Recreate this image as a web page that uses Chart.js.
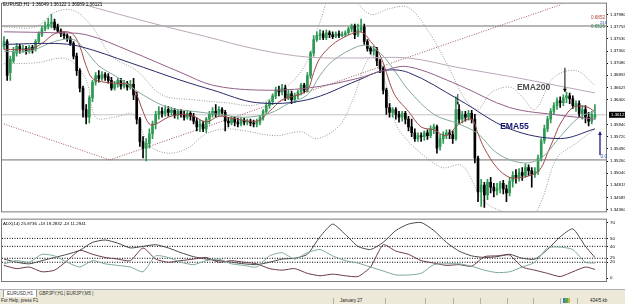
<!DOCTYPE html>
<html><head><meta charset="utf-8">
<script src="https://cdn.jsdelivr.net/npm/chart.js@4.4.1/dist/chart.umd.min.js"></script>
<style>
html,body{margin:0;padding:0;background:#fff;}
body{width:625px;height:304px;overflow:hidden;position:relative;font-family:"Liberation Sans",Arial,sans-serif;}
#c1{position:absolute;left:0;top:0;}
#c2{position:absolute;left:0;top:215px;}
#tabs{position:absolute;left:0;top:289px;width:625px;height:8px;background:#ece9d8;border-top:1px solid #b0b0b0;font-size:4.5px;}
.tab{position:absolute;top:0;height:7px;line-height:7px;padding:0 3px;color:#333;}
.tab.on{background:#fff;border:1px solid #999;border-top:none;top:0;}
#status{position:absolute;left:0;top:297px;width:625px;height:7px;background:#ece9d8;font-size:4.5px;line-height:7px;color:#222;}
#status span{position:absolute;top:0;}
#status i{position:absolute;top:1px;width:1px;height:6px;background:#b5b2a5;}
#status b{position:absolute;top:1px;left:563px;width:7px;height:5px;background:linear-gradient(90deg,#3a7fc0 0 30%,#58a84a 30% 65%,#c9b640 65%);}
</style></head><body>
<canvas id="c1" width="625" height="216"></canvas>
<canvas id="c2" width="625" height="75"></canvas>
<div id="tabs">
  <div class="tab on" style="left:3px">EURUSD,H1</div>
  <div class="tab" style="left:36px">GBPJPY,H1</div>
  <div class="tab" style="left:61px">| EURJPY,M5 |</div>
</div>
<div id="status">
  <span style="left:1px">For Help, press F1</span>
  <i style="left:333px"></i>
  <span style="left:340px">January 27</span>
  <i style="left:385px"></i><i style="left:425px"></i><i style="left:453px"></i><i style="left:480px"></i>
  <i style="left:507px"></i><i style="left:533px"></i><i style="left:560px"></i><i style="left:577px"></i>
  <b></b>
  <span style="left:590px">434/5 kb</span>
</div>
<script>
// ---------------- DATA ----------------
const timeLabels = ["10 Feb 2010","10 Feb 22:00","11 Feb 06:00","11 Feb 14:00","11 Feb 22:00","12 Feb 06:00","12 Feb 14:00","12 Feb 22:00","15 Feb 07:00","15 Feb 15:00","15 Feb 23:00","16 Feb 07:00","16 Feb 15:00","16 Feb 23:00","17 Feb 07:00","17 Feb 15:00","17 Feb 23:00","18 Feb 07:00","18 Feb 15:00","18 Feb 23:00","19 Feb 07:00","19 Feb 15:00","22 Feb 00:00","22 Feb 08:00"];
const timeTickIdx = [0,8,16,24,32,40,48,56,64,72,80,88,96,104,112,120,128,136,144,152,160,168,176,184];
const priceTicks = [1.37980,1.37755,1.37530,1.37300,1.37080,1.36855,1.36625,1.36400,1.35940,1.35720,1.35490,1.35260,1.35040,1.34815,1.34585,1.34360];
const adxTicks = [0,20,25,40,50,70];
const adxLevels = [20,25,40,50];

const openP = [1.3739,1.3748,1.36904,1.3712,1.37264,1.3739,1.37336,1.37354,1.373,1.37372,1.37336,1.3748,1.37606,1.37714,1.37768,1.37804,1.3784,1.3775,1.37678,1.37624,1.37588,1.37534,1.37444,1.3721,1.3694,1.36616,1.3622,1.36076,1.36436,1.36724,1.3685,1.36796,1.36868,1.36832,1.3676,1.36616,1.36688,1.3676,1.36652,1.36706,1.36634,1.36688,1.3649,1.3604,1.35626,1.355,1.3559,1.3577,1.3595,1.3613,1.36184,1.36148,1.3622,1.36166,1.36202,1.36112,1.36184,1.3613,1.36076,1.36148,1.36094,1.36004,1.35896,1.3595,1.3586,1.3604,1.3613,1.36184,1.3613,1.3622,1.36166,1.36004,1.35968,1.3604,1.35986,1.3595,1.36022,1.35986,1.36004,1.35968,1.3595,1.35986,1.36076,1.36184,1.36292,1.36364,1.36472,1.3658,1.36544,1.36616,1.36436,1.36508,1.364,1.36472,1.36544,1.3667,1.3658,1.3685,1.37264,1.37516,1.37588,1.37624,1.37552,1.37642,1.37606,1.3757,1.37624,1.37588,1.37606,1.37642,1.37714,1.37768,1.37606,1.37696,1.3775,1.3748,1.37354,1.373,1.37336,1.3712,1.36976,1.3658,1.36256,1.36166,1.3622,1.3613,1.36076,1.36148,1.3604,1.35896,1.35788,1.3568,1.35734,1.35716,1.35788,1.35734,1.3586,1.35896,1.35536,1.3568,1.35752,1.35788,1.35752,1.3568,1.3622,1.3604,1.3613,1.36076,1.36148,1.3604,1.3532,1.3469,1.34816,1.34636,1.3487,1.3478,1.34708,1.34762,1.34852,1.34744,1.34672,1.34888,1.34996,1.3496,1.3505,1.34996,1.3514,1.35086,1.35014,1.35068,1.3532,1.35644,1.3586,1.3604,1.36184,1.36292,1.36382,1.36346,1.36436,1.36472,1.36418,1.36292,1.36328,1.36148,1.3622,1.36076,1.36004,1.36076];
const highP = [1.3757,1.37516,1.3721,1.37372,1.37444,1.37426,1.37408,1.3739,1.37408,1.37408,1.37516,1.3766,1.37768,1.3784,1.37912,1.37984,1.37894,1.37804,1.37714,1.3766,1.37624,1.3757,1.3748,1.37264,1.36976,1.36652,1.3631,1.36472,1.3676,1.36904,1.3694,1.36922,1.36904,1.36886,1.36814,1.36742,1.36796,1.36796,1.3676,1.36742,1.3676,1.36796,1.36544,1.36076,1.35716,1.3568,1.3586,1.36004,1.36184,1.36274,1.36256,1.36292,1.36274,1.36256,1.36238,1.3622,1.3622,1.36184,1.36202,1.36184,1.36148,1.36058,1.36022,1.36004,1.36076,1.36184,1.36256,1.3631,1.36274,1.36256,1.36202,1.36076,1.36094,1.36076,1.36058,1.36076,1.36058,1.3604,1.3604,1.36022,1.3604,1.36112,1.3622,1.36346,1.364,1.36508,1.36634,1.36652,1.36688,1.3667,1.3658,1.36562,1.36526,1.3658,1.36706,1.36706,1.36904,1.373,1.37588,1.3766,1.37696,1.37678,1.37696,1.37678,1.3766,1.3766,1.37678,1.3766,1.37678,1.3775,1.37804,1.37804,1.37804,1.37894,1.37804,1.37516,1.3739,1.3739,1.37372,1.37156,1.37012,1.36616,1.36328,1.36256,1.36256,1.36184,1.36184,1.36184,1.36094,1.3604,1.3586,1.35788,1.35788,1.35824,1.35842,1.35914,1.3595,1.35932,1.35752,1.35806,1.35842,1.35842,1.35824,1.36454,1.3631,1.36184,1.36184,1.36202,1.36202,1.3613,1.35356,1.34924,1.3487,1.34924,1.3496,1.34852,1.34852,1.34888,1.34906,1.34816,1.3496,1.35068,1.35104,1.35122,1.3514,1.35212,1.35194,1.3514,1.3514,1.35374,1.3568,1.35932,1.36094,1.36238,1.36346,1.36436,1.36454,1.3649,1.36544,1.36526,1.36472,1.36382,1.36382,1.36292,1.36292,1.36166,1.36184,1.3631];
const lowP = [1.37336,1.3676,1.3676,1.37084,1.3721,1.37264,1.37282,1.37246,1.37264,1.37264,1.373,1.37444,1.3757,1.37678,1.37714,1.37732,1.37696,1.37642,1.3757,1.37534,1.3748,1.37408,1.37156,1.3685,1.36544,1.36076,1.3595,1.35968,1.36364,1.3667,1.36724,1.3676,1.3676,1.36706,1.3658,1.3658,1.36634,1.36598,1.36616,1.3658,1.36598,1.364,1.3595,1.35536,1.3532,1.35266,1.355,1.3568,1.3586,1.3604,1.36076,1.36094,1.36094,1.36112,1.36058,1.3604,1.36076,1.36022,1.3604,1.36022,1.3595,1.35824,1.35806,1.35806,1.35788,1.3595,1.36076,1.36076,1.36094,1.36112,1.35824,1.35896,1.35932,1.35914,1.35896,1.35914,1.35932,1.35932,1.35914,1.35896,1.35896,1.35932,1.36022,1.36148,1.36238,1.3631,1.36418,1.36472,1.3649,1.36382,1.364,1.36328,1.36346,1.36418,1.3649,1.36526,1.36544,1.36796,1.3721,1.3748,1.37516,1.37516,1.37516,1.37552,1.37534,1.37552,1.37552,1.3757,1.3757,1.37606,1.3766,1.37534,1.3757,1.3766,1.37426,1.373,1.37246,1.37228,1.3703,1.36904,1.36508,1.3613,1.36076,1.36076,1.3604,1.35986,1.36004,1.3595,1.35824,1.35716,1.35626,1.35626,1.35626,1.35644,1.35662,1.35698,1.3577,1.3541,1.35464,1.3559,1.3568,1.3568,1.3559,1.35644,1.3595,1.35968,1.36004,1.36022,1.35968,1.3523,1.3451,1.3442,1.34402,1.34546,1.34672,1.346,1.34636,1.34672,1.34654,1.3451,1.34618,1.3478,1.34852,1.34888,1.34906,1.3496,1.34996,1.3478,1.3496,1.35014,1.35266,1.3559,1.35806,1.35968,1.3613,1.3622,1.36256,1.36292,1.36346,1.36328,1.36238,1.36184,1.36076,1.3604,1.35968,1.35914,1.3595,1.3604];
const closeP = [1.3748,1.3685,1.37156,1.373,1.3739,1.37336,1.37354,1.373,1.37372,1.37318,1.3748,1.37624,1.37714,1.37768,1.37804,1.3784,1.37732,1.37678,1.37624,1.37588,1.37534,1.37444,1.3721,1.3694,1.36616,1.3622,1.36076,1.36436,1.36724,1.3685,1.36796,1.36868,1.36814,1.3676,1.36616,1.36688,1.3676,1.36652,1.36706,1.36634,1.36688,1.3649,1.3604,1.35626,1.355,1.3559,1.3577,1.3595,1.3613,1.36184,1.36148,1.3622,1.36166,1.36202,1.36112,1.36184,1.3613,1.36076,1.36148,1.36094,1.36004,1.35896,1.3595,1.3586,1.3604,1.3613,1.36184,1.3613,1.3622,1.36166,1.36004,1.35968,1.3604,1.35986,1.3595,1.36022,1.35986,1.36004,1.35968,1.3595,1.35986,1.36076,1.36184,1.36292,1.36364,1.36472,1.3658,1.36544,1.36616,1.36436,1.36508,1.364,1.36472,1.36544,1.3667,1.3658,1.3685,1.37264,1.37516,1.37588,1.37624,1.37552,1.37642,1.37606,1.3757,1.37624,1.37588,1.37606,1.37642,1.37714,1.37768,1.37606,1.37696,1.3775,1.3748,1.37354,1.373,1.37336,1.3712,1.36976,1.3658,1.36256,1.36166,1.3622,1.3613,1.36076,1.36148,1.3604,1.35896,1.35788,1.3568,1.35734,1.35716,1.35788,1.35734,1.3586,1.35896,1.355,1.3568,1.35752,1.35788,1.35752,1.3568,1.3622,1.3604,1.3613,1.36076,1.36148,1.3604,1.3532,1.3469,1.34816,1.34636,1.3487,1.3478,1.34708,1.34762,1.34852,1.34744,1.34672,1.34888,1.34996,1.3496,1.3505,1.34996,1.3514,1.35086,1.35014,1.35068,1.3532,1.35644,1.3586,1.3604,1.36184,1.36292,1.36382,1.36346,1.36436,1.36472,1.36418,1.36292,1.36328,1.36148,1.3622,1.36076,1.36004,1.3613,1.36121];

// moving averages (bar index, price)
const ema200Idx = [20,32,48,64,80,96,112,128,144,160,176,187];
const ema200Val = [1.38254,1.38056,1.37804,1.3757,1.37336,1.37192,1.37174,1.37174,1.36994,1.36832,1.36652,1.36526];
const ema100Idx = [0,16,26,40,56,66,80,96,112,120,128,144,160,176,187];
const ema100Val = [1.3766,1.37642,1.37606,1.373,1.36904,1.3667,1.3658,1.36616,1.36796,1.3694,1.37012,1.3667,1.36256,1.36112,1.3604];
const ema55Idx = [0,16,24,40,56,66,80,96,112,120,128,144,160,176,187];
const ema55Val = [1.37426,1.37444,1.3739,1.37084,1.3676,1.3658,1.36346,1.364,1.3676,1.3694,1.36904,1.364,1.3586,1.3568,1.3586];
const emaFastIdx = [0,8,12,16,20,22,24,26,28,32,36,40,42,44,46,48,52,56,60,64,68,72,80,84,88,92,96,98,100,104,108,112,114,116,118,120,122,124,128,132,136,140,144,148,150,152,156,160,164,168,170,172,174,176,180,184,187];
const emaFastVal = [1.37336,1.37336,1.37444,1.37624,1.3766,1.37606,1.3739,1.3703,1.36796,1.36724,1.36706,1.3667,1.3649,1.36184,1.3595,1.3595,1.36076,1.3613,1.36094,1.35986,1.36094,1.36058,1.36004,1.36184,1.364,1.36472,1.3658,1.36904,1.37174,1.37426,1.3757,1.3766,1.37624,1.3748,1.37336,1.37084,1.36724,1.36454,1.36184,1.35896,1.35842,1.35734,1.3595,1.3604,1.3577,1.355,1.3514,1.3496,1.3496,1.35032,1.3514,1.3541,1.3568,1.3595,1.36256,1.36274,1.36184];
const emaMidIdx = [0,8,16,22,26,30,36,44,52,60,68,76,84,90,96,100,104,112,116,120,124,128,136,144,150,156,164,170,176,182,187];
const emaMidVal = [1.373,1.373,1.3748,1.37516,1.373,1.3703,1.36814,1.3649,1.36256,1.36184,1.3613,1.36076,1.36148,1.36328,1.3649,1.3685,1.3712,1.3739,1.3739,1.3721,1.36904,1.3658,1.3613,1.3595,1.3577,1.3541,1.3523,1.3532,1.35716,1.36076,1.36184];
const upperIdx = [0,10,16,22,28,34,42,50,60,70,80,90,96,100,104,110,116,122,128,134,140,146,150,154,160,164,168,174,181,187];
const upperVal = [1.3775,1.3775,1.3802,1.38056,1.3775,1.3721,1.3694,1.3649,1.364,1.36346,1.3631,1.3667,1.3712,1.3784,1.3838,1.3829,1.37984,1.38092,1.3811,1.37696,1.37084,1.364,1.3622,1.36526,1.36634,1.36454,1.3622,1.36814,1.3694,1.3667];
const lowerIdx = [0,10,20,26,29,35,41,46,52,58,64,70,76,86,94,99,106,110,116,120,124,128,135,139,145,152,160,166,170,175,181,187];
const lowerVal = [1.37066,1.37084,1.37156,1.3676,1.36076,1.36076,1.3613,1.35554,1.3541,1.355,1.3577,1.3586,1.35824,1.35734,1.35806,1.3568,1.35914,1.36346,1.3721,1.3685,1.3595,1.35626,1.35266,1.3514,1.35176,1.3451,1.34276,1.3415,1.3451,1.3532,1.3559,1.3586];

const fiboLevels = [1.37768, 1.35284];
const bidPrice = 1.36121;
const trendA = [[0,1.35950],[33.5,1.35284]];
const trendB = [[33.5,1.35284],[178,1.38200]];

// ADX(14), +DI, -DI sampled every 4 bars
const adxIdx = [0,4,8,12,16,20,24,28,32,36,40,44,48,52,56,60,64,68,72,76,80,84,88,92,96,100,104,108,112,116,120,124,128,132,136,140,144,148,152,156,160,164,168,172,176,180,184,187];
const adxMain = [24,20,18,22,26,30,35,45,48,44,38,40,42,38,32,27,24,22,20,18,17,20,24,25,30,52,68,55,40,36,45,60,68,70,60,45,34,28,26,27,30,25,24,36,52,62,40,26];
const adxPlus = [18,22,20,30,28,20,14,22,18,16,14,8,28,26,20,17,22,24,18,16,14,28,32,24,32,36,28,22,19,14,9,4,4,6,17,18,18,15,10,7,8,14,20,38,39,36,20,19];
const adxMinus = [16,12,14,8,10,22,35,30,26,24,22,38,24,20,22,24,26,20,22,20,18,12,10,12,6,3,5,3,2,14,42,34,30,22,19,16,17,15,27,28,29,14,10,6,2,8,14,11];

// ---------------- HELPERS ----------------
const BULL = '#2f9a55', BEAR = '#000000';
const XMIN = -0.63, XMAX = 190.5;
const pts = (idx, val) => idx.map((x, k) => ({x, y: val[k]}));
const pairPts = arr => arr.map(p => ({x: p[0], y: p[1]}));
const lineDs = (data, color, extra) => Object.assign({type:'line', data, borderColor:color, borderWidth:1, pointRadius:0, tension:0.35, fill:false, order:0}, extra||{});
const FONT = '"Liberation Sans", Arial, sans-serif';

function arrow(ctx, x, y1, y2, color, w, head){
  ctx.strokeStyle = color; ctx.fillStyle = color; ctx.lineWidth = w;
  ctx.beginPath(); ctx.moveTo(x, y1); ctx.lineTo(x, y2); ctx.stroke();
  const d = y2 > y1 ? 1 : -1;
  ctx.beginPath(); ctx.moveTo(x - head, y2 - d*head*1.6); ctx.lineTo(x + head, y2 - d*head*1.6); ctx.lineTo(x, y2); ctx.closePath(); ctx.fill();
}

const mainOverlay = {
  id: 'mainOverlay',
  afterDatasetsDraw(chart){
    const {ctx, chartArea:a, scales:{x, y}} = chart;
    ctx.save();
    ctx.strokeStyle = '#7a7a7a'; ctx.lineWidth = 1;
    ctx.strokeRect(a.left - 0.5, a.top - 1.5, a.right - a.left + 1, a.bottom - a.top + 2);
    ctx.fillStyle = '#000'; ctx.font = '4.6px ' + FONT; ctx.textBaseline = 'middle'; ctx.textAlign = 'left';
    ctx.fillText('EURUSD,H1  1.36049 1.36122 1.36089 1.36121', 3, 5);
    ctx.textAlign = 'right';
    ctx.fillStyle = '#b03a3a'; ctx.fillText('0.6852', a.right - 1, y.getPixelForValue(1.37930));
    ctx.fillStyle = '#2e7d4f'; ctx.fillText('0.6526', a.right - 1, y.getPixelForValue(fiboLevels[0]) + 1);
    ctx.fillStyle = '#2040a0'; ctx.font = '3.6px ' + FONT; ctx.fillText('23.6', a.right + 1, y.getPixelForValue(fiboLevels[0]) - 2.5);
    ctx.font = '4.6px ' + FONT; ctx.fillText('0.0', a.right + 1, y.getPixelForValue(fiboLevels[1]) - 3);
    ctx.textAlign = 'left';
    ctx.font = 'bold 8.6px ' + FONT;
    ctx.fillStyle = '#4d4d4d'; ctx.fillText('EMA200', x.getPixelForValue(162.3), y.getPixelForValue(1.36634));
    ctx.fillStyle = '#16166e'; ctx.fillText('EMA55', x.getPixelForValue(157), y.getPixelForValue(1.35896));
    arrow(ctx, x.getPixelForValue(177.5), y.getPixelForValue(1.36994), y.getPixelForValue(1.36544), '#000', 1, 2);
    arrow(ctx, x.getPixelForValue(188.6), y.getPixelForValue(1.35374), y.getPixelForValue(1.35806), '#1a1a80', 1.3, 2);
    arrow(ctx, x.getPixelForValue(143.6), y.getPixelForValue(1.36508), y.getPixelForValue(1.36310), '#000', 0.8, 1.3);
    const by = y.getPixelForValue(bidPrice);
    ctx.fillStyle = '#000'; ctx.fillRect(a.right + 3, by - 3, 625 - a.right - 3, 6);
    ctx.fillStyle = '#fff'; ctx.font = '4.4px ' + FONT; ctx.textAlign = 'left';
    ctx.fillText(bidPrice.toFixed(5), a.right + 5, by + 0.3);
    ctx.restore();
  }
};

const adxOverlay = {
  id: 'adxOverlay',
  afterDatasetsDraw(chart){
    const {ctx, chartArea:a} = chart;
    ctx.save();
    ctx.strokeStyle = '#7a7a7a'; ctx.lineWidth = 1;
    ctx.strokeRect(a.left - 0.5, a.top - 0.5, a.right - a.left + 1, a.bottom - a.top + 1);
    ctx.fillStyle = '#000'; ctx.font = '4.4px ' + FONT; ctx.textBaseline = 'middle';
    ctx.fillText('ADX(14) 25.8736 +DI 19.2832 -DI 11.2941', 3, a.top + 4);
    ctx.restore();
  }
};

// ---------------- MAIN CHART ----------------
const wickData = closeP.map((c, i) => ({x: i, y: [lowP[i], highP[i]]}));
const bodyData = closeP.map((c, i) => ({x: i, y: [openP[i], c]}));
const candleColors = closeP.map((c, i) => c >= openP[i] ? BULL : BEAR);

new Chart(document.getElementById('c1'), {
  type: 'bar',
  data: { datasets: [
    lineDs([{x:XMIN,y:bidPrice},{x:XMAX,y:bidPrice}], '#c4c4c4', {tension:0, order:5}),
    lineDs([{x:XMIN,y:fiboLevels[0]},{x:XMAX,y:fiboLevels[0]}], '#6e6e6e', {tension:0, order:5}),
    lineDs([{x:XMIN,y:fiboLevels[1]},{x:XMAX,y:fiboLevels[1]}], '#6e6e6e', {tension:0, order:5}),
    lineDs(pairPts(trendA), '#a05a5a', {tension:0, borderDash:[1,1.5], order:4}),
    lineDs(pairPts(trendB), '#a05a5a', {tension:0, borderDash:[1,1.5], order:4}),
    lineDs(pts(upperIdx, upperVal), '#9a9a9a', {borderDash:[1,1.5], order:4}),
    lineDs(pts(lowerIdx, lowerVal), '#9a9a9a', {borderDash:[1,1.5], order:4}),
    {type:'bar', data: wickData, backgroundColor: candleColors, barThickness: 1, grouped:false, minBarLength:1, order:3},
    {type:'bar', data: bodyData, backgroundColor: candleColors, barThickness: 2, grouped:false, minBarLength:1, order:2},
    lineDs(pts(ema200Idx, ema200Val), '#b9a7b9'),
    lineDs(pts(ema100Idx, ema100Val), '#93608a'),
    lineDs(pts(ema55Idx, ema55Val), '#2a2a6a'),
    lineDs(pts(emaMidIdx, emaMidVal), '#86a89a'),
    lineDs(pts(emaFastIdx, emaFastVal), '#a04848')
  ]},
  options: {
    responsive:false, animation:false, events:[],
    layout:{padding:{left:2, top:2, right:0, bottom:1}},
    plugins:{legend:{display:false}, tooltip:{enabled:false}},
    scales:{
      x:{type:'linear', min:XMIN, max:XMAX, offset:false, display:false},
      y:{position:'right', min:1.34330, max:1.38164,
         afterFit(s){ s.width = 19; },
         afterBuildTicks(s){ s.ticks = priceTicks.map(v => ({value:v})); },
         ticks:{font:{size:4.4, family:FONT}, color:'#000', padding:2, callback:v => v.toFixed(5)},
         grid:{display:true, drawOnChartArea:false, tickLength:2, color:'#000'},
         border:{display:true, color:'#000'}}
    }
  },
  plugins:[mainOverlay]
});

// ---------------- ADX CHART ----------------
const levelDs = adxLevels.map(v => lineDs([{x:XMIN,y:v},{x:XMAX,y:v}], '#000', {tension:0, borderDash:[1,1.5], order:3}));
new Chart(document.getElementById('c2'), {
  type: 'line',
  data: { datasets: levelDs.concat([
    lineDs(pts(adxIdx, adxPlus), '#7ea99a', {tension:0.2}),
    lineDs(pts(adxIdx, adxMinus), '#6b3a4a', {tension:0.2}),
    lineDs(pts(adxIdx, adxMain), '#4a4a4a', {tension:0.2})
  ])},
  options: {
    responsive:false, animation:false, events:[],
    layout:{padding:{left:2, top:1, right:0, bottom:0}},
    plugins:{legend:{display:false}, tooltip:{enabled:false}},
    scales:{
      x:{type:'linear', min:XMIN, max:XMAX, offset:false,
         afterFit(s){ s.height = 9; },
         afterBuildTicks(s){ s.ticks = timeTickIdx.map(v => ({value:v})); },
         ticks:{font:{size:4.4, family:FONT}, color:'#000', padding:1, align:'start', autoSkip:false, maxRotation:0, minRotation:0,
                callback:(v, i) => timeLabels[i]},
         grid:{display:false}, border:{display:false}},
      y:{position:'right', min:-3.6, max:73.6,
         afterFit(s){ s.width = 19; },
         afterBuildTicks(s){ s.ticks = adxTicks.map(v => ({value:v})); },
         ticks:{font:{size:4.4, family:FONT}, color:'#000', padding:2, callback:v => String(v)},
         grid:{display:true, drawOnChartArea:false, tickLength:2, color:'#000'},
         border:{display:true, color:'#000'}}
    }
  },
  plugins:[adxOverlay]
});
</script>
</body></html>
